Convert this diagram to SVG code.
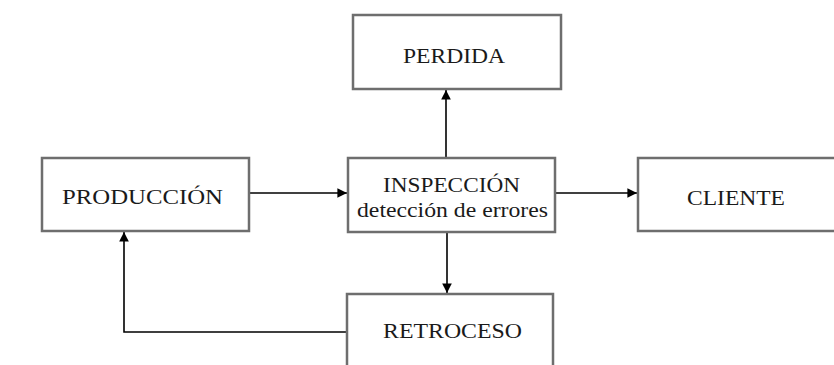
<svg xmlns="http://www.w3.org/2000/svg" width="834" height="365" viewBox="0 0 834 365">
<style>
.box{fill:#fff;stroke:#6e6e6e;stroke-width:2.5}
.lbl{font-family:"Liberation Serif","Times New Roman",serif;font-size:21px;fill:#1a1a1a}
.sub{font-family:"Liberation Serif","Times New Roman",serif;font-size:20px;fill:#1a1a1a}
.con{fill:none;stroke:#000;stroke-width:1.6}
</style>
<defs>
<marker id="arr" viewBox="0 0 10 10" refX="10" refY="5" markerWidth="6" markerHeight="6" orient="auto" markerUnits="strokeWidth">
<path d="M0,0 L10,5 L0,10 Z" fill="#000"/>
</marker>
</defs>
<rect width="834" height="365" fill="#fff"/>
<g id="connectors">
<line class="con" x1="446" y1="158" x2="446" y2="90" marker-end="url(#arr)"/>
<line class="con" x1="250" y1="193" x2="347" y2="193" marker-end="url(#arr)"/>
<line class="con" x1="556" y1="193" x2="637" y2="193" marker-end="url(#arr)"/>
<line class="con" x1="447" y1="232" x2="447" y2="293" marker-end="url(#arr)"/>
<polyline class="con" points="347,332 124,332 124,232" marker-end="url(#arr)"/>
</g>
<g id="perdida">
<rect class="box" x="353" y="15" width="208" height="74"/>
<text class="lbl" x="403" y="63" textLength="102" lengthAdjust="spacingAndGlyphs">PERDIDA</text>
</g>
<g id="produccion">
<rect class="box" x="42" y="158" width="207" height="73"/>
<text class="lbl" x="62" y="204" textLength="161" lengthAdjust="spacingAndGlyphs">PRODUCCIÓN</text>
</g>
<g id="inspeccion">
<rect class="box" x="348" y="158" width="207" height="74"/>
<text class="lbl" x="383" y="192" textLength="137" lengthAdjust="spacingAndGlyphs">INSPECCIÓN</text>
<text class="sub" x="357" y="217" textLength="191" lengthAdjust="spacingAndGlyphs">detección de errores</text>
</g>
<g id="cliente">
<rect class="box" x="638" y="158" width="210" height="73"/>
<text class="lbl" x="687" y="205" textLength="98" lengthAdjust="spacingAndGlyphs">CLIENTE</text>
</g>
<g id="retroceso">
<rect class="box" x="347" y="294" width="206" height="90"/>
<text class="lbl" x="383" y="338" textLength="139" lengthAdjust="spacingAndGlyphs">RETROCESO</text>
</g>
</svg>
